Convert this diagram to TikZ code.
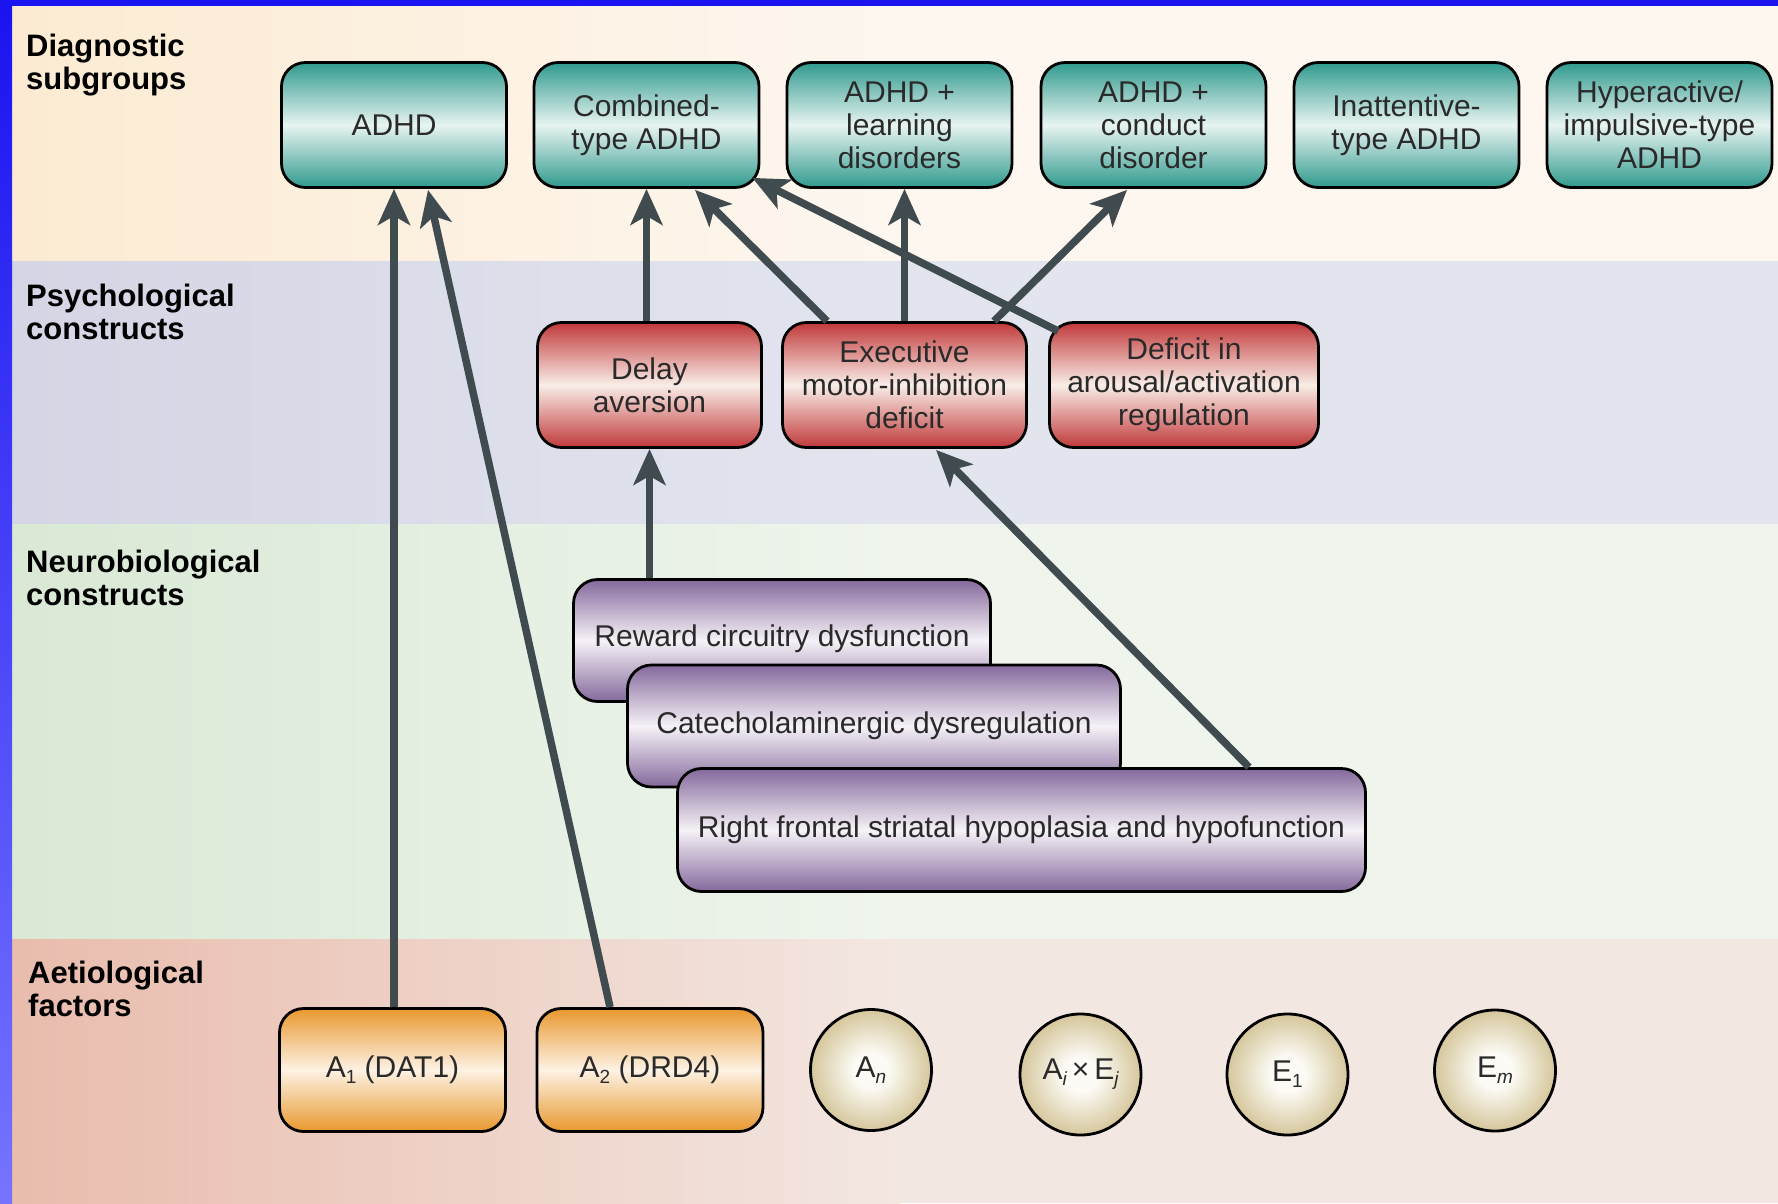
\documentclass[tikz,border=0pt]{standalone}
\usepackage{fontspec}
\setmainfont{Liberation Sans}
\usetikzlibrary{arrows.meta,calc}
\definecolor{bluebar}{HTML}{1A14F0}
\definecolor{bluebot}{HTML}{7674FF}
\definecolor{diagL}{HTML}{FCEBD2}
\definecolor{diagR}{HTML}{FDF7F0}
\definecolor{psyL}{HTML}{D5D5E5}
\definecolor{psyR}{HTML}{E2E5EE}
\definecolor{neuL}{HTML}{D9E9D5}
\definecolor{neuR}{HTML}{EFF5ED}
\definecolor{aetL}{HTML}{E9BCAD}
\definecolor{aetR}{HTML}{F3E7E1}
\definecolor{tealD}{HTML}{309A8E}
\definecolor{tealL}{HTML}{E8F4F1}
\definecolor{redD}{HTML}{C0393A}
\definecolor{redL}{HTML}{F9EDE7}
\definecolor{purD}{HTML}{84699C}
\definecolor{purL}{HTML}{F6F2F7}
\definecolor{orD}{HTML}{E8982E}
\definecolor{orL}{HTML}{FDF2E4}
\definecolor{cin}{HTML}{FCFBF6}
\definecolor{cout}{HTML}{D5C69B}
\definecolor{arrowc}{HTML}{404B50}
\definecolor{textc}{HTML}{2A2A2A}
\pgfdeclareradialshading{circsh}{\pgfpoint{0bp}{0bp}}{color(0bp)=(cin); color(7bp)=(cin); color(25bp)=(cout); color(50bp)=(cout)}
\newcommand\boxfont{\fontsize{30}{33}\selectfont}
\newcommand\labfont{\fontsize{31}{33}\selectfont\bfseries}
\newcommand\mysub[1]{\raisebox{-6pt}{\fontsize{19}{19}\selectfont #1}}
\tikzset{
  box/.style={draw=black, line width=2.8pt, rounded corners=24pt, inner sep=0pt,
    align=center, font=\boxfont, text=textc},
  diagbox/.style={box, minimum width=225pt, minimum height=125pt,
    top color=tealD, bottom color=tealD, middle color=tealL},
  psybox/.style={box, minimum height=125pt,
    top color=redD, bottom color=redD, middle color=redL},
  neubox/.style={box, minimum height=122pt,
    top color=purD, bottom color=purD, middle color=purL},
  aetbox/.style={box, minimum width=226pt, minimum height=123pt,
    top color=orD, bottom color=orD, middle color=orL},
  circbox/.style={draw=black, line width=2.8pt, circle, minimum size=121pt, inner sep=0pt,
    shading=circsh, font=\boxfont, text=textc},
  lab/.style={anchor=north west, inner sep=0pt, align=left, font=\labfont, text=black},
  arr/.style={draw=arrowc, line width=7.5pt,
    -{Stealth[length=36pt, width=32pt, inset=9pt]}}
}
\begin{document}
\begin{tikzpicture}[x=1pt,y=-1pt]
\useasboundingbox (0,0) rectangle (1778,1203);
% background bands
\fill[diagR] (12,6) rectangle (1778,261);
\shade[left color=diagL, right color=diagR] (12,6) rectangle (900,261);
\fill[psyR] (12,261) rectangle (1778,524);
\shade[left color=psyL, right color=psyR] (12,261) rectangle (900,524);
\fill[neuR] (12,524) rectangle (1778,939);
\shade[left color=neuL, right color=neuR] (12,524) rectangle (900,939);
\fill[aetR] (12,939) rectangle (1778,1203);
\shade[left color=aetL, right color=aetR] (12,939) rectangle (900,1203);
\fill[bluebar] (0,0) rectangle (1778,6);
\shade[top color=bluebar, bottom color=bluebot] (0,6) rectangle (12,1203);
% level labels
\node[lab] (l1) at (26,33.5) {Diagnostic\\subgroups};
\node[lab] (l2) at (26,284) {Psychological\\constructs};
\node[lab] (l3) at (26,549.5) {Neurobiological\\constructs};
\node[lab] (l4) at (28,960.5) {Aetiological\\factors};
% diagnostic subgroups
\node[diagbox] (adhd) at (394,125) {ADHD};
\node[diagbox] (comb) at (646.5,125) {Combined-\\type ADHD};
\node[diagbox] (learn) at (899.5,125) {ADHD +\\learning\\disorders};
\node[diagbox] (cond) at (1153.5,125) {ADHD +\\conduct\\disorder};
\node[diagbox] (inatt) at (1406.5,125) {Inattentive-\\type ADHD};
\node[diagbox] (hyper) at (1659.5,125) {Hyperactive/\\impulsive-type\\ADHD};
% psychological constructs
\node[psybox, minimum width=224pt] (delay) at (649.5,385) {Delay\\aversion};
\node[psybox, minimum width=244pt] (exec) at (904.5,385) {Executive\\motor-inhibition\\deficit};
\node[psybox, minimum width=269pt] (arous) at (1184,385) {Deficit in\\arousal/activation\\regulation};
% neurobiological constructs
\node[neubox, minimum width=417pt] (reward) at (782,640.5) {\raisebox{10pt}{Reward circuitry dysfunction}};
\node[neubox, minimum width=493pt] (catech) at (874,726) {Catecholaminergic dysregulation};
\node[neubox, minimum width=688pt, minimum height=123pt] (rfront) at (1021.5,830) {Right frontal striatal hypoplasia and hypofunction};
% aetiological factors
\node[aetbox] (a1) at (392.5,1070) {A\mysub{1} (DAT1)};
\node[aetbox] (a2) at (650,1070) {A\mysub{2} (DRD4)};
\node[circbox] (an) at (871,1070) {A\mysub{\itshape n}};
\node[circbox] (aiej) at (1080.5,1074.5) {A\mysub{\itshape i}\,×\,E\mysub{\itshape j}};
\node[circbox] (e1) at (1287.5,1074.5) {E\mysub{1}};
\node[circbox] (em) at (1495,1070.5) {E\mysub{\itshape m}};
% connectors
\draw[arr] (adhd.south |- a1.north) -- (adhd.south);
\draw[arr] ($(a2.north)+(-40,0)$) -- ($(adhd.south)+(34,1)$);
\draw[arr] (comb.south |- delay.north) -- (comb.south);
\draw[arr] ($(exec.north)+(-77.5,0)$) -- ($(comb.south)+(48.5,1)$);
\draw[arr] ($(arous.north west)+(10,10)$) -- ($(comb.south east)+(-8,-11)$);
\draw[arr] (exec.north) -- (exec.north |- learn.south);
\draw[arr] ($(exec.north)+(89.5,0)$) -- ($(cond.south)+(-26.5,1)$);
\draw[arr] (delay.south |- reward.north) -- (delay.south);
\draw[arr] ($(rfront.north)+(227.5,0)$) -- ($(exec.south)+(31.5,1)$);
\end{tikzpicture}
\end{document}
